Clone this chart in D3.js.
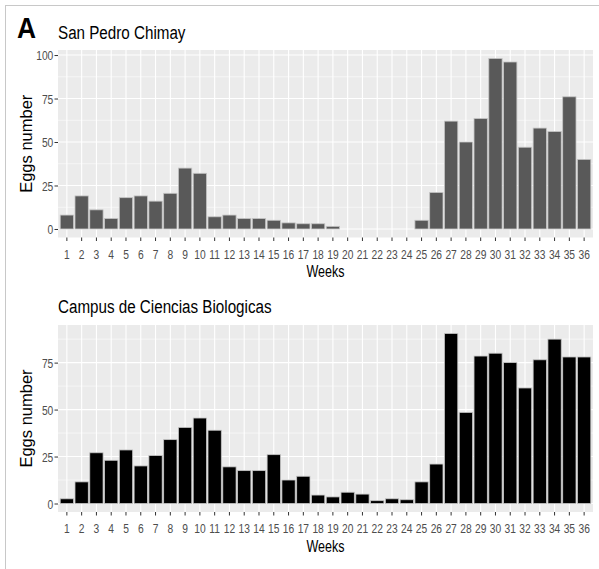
<!DOCTYPE html>
<html>
<head>
<meta charset="utf-8">
<script src="https://cdn.jsdelivr.net/npm/d3@7"></script>
<style>
  body { margin: 0; background: #fff; }
  text { font-family: "Liberation Sans", Arial, sans-serif; }
</style>
</head>
<body>
<script>
// weeks on the x axis
var weeks = ["1","2","3","4","5","6","7","8","9","10","11","12","13","14","15","16","17","18",
  "19","20","21","22","23","24","25","26","27","28","29","30","31","32","33","34","35","36"];

// eggs per week, San Pedro Chimay
var sanPedro = [8, 19, 11, 6, 18, 19, 16, 20.5, 35, 32, 7, 8, 6, 6, 5, 3.5, 3, 3,
  1.5, 0, 0, 0, 0, 0, 5, 21, 62, 50, 63.5, 98, 96, 47, 58, 56, 76, 40];

// eggs per week, Campus de Ciencias Biologicas
var campus = [2.5, 11.5, 27, 23, 28.5, 20, 25.5, 34, 40.5, 45.5, 39, 19.5, 17.5, 17.5, 26, 12.5, 14.5, 4.5,
  3.5, 6, 5, 1.5, 2.5, 2, 11.5, 21, 90.5, 48.5, 78.5, 80, 75, 61.5, 76.5, 87.5, 78, 78];

// y tick labels
var ticksTop = [0, 25, 50, 75, 100];
var ticksBottom = [0, 25, 50, 75];

var w = 599, h = 569;
var squeeze = 0.8;    //horizontal text narrowing, like the original
var tickSqueeze = 0.76;

var svg = d3.select("body")
  .append("svg")
  .attr("width", w)
  .attr("height", h);

svg.append("rect")
  .attr("width", w)
  .attr("height", h)
  .style("fill", "#fff");

//light frame round the figure
svg.append("rect")
  .attr("x", 5.5)
  .attr("y", 5.5)
  .attr("width", w + 10)
  .attr("height", h + 10)
  .style("fill", "none")
  .style("stroke", "#c8c8c8")
  .style("stroke-width", 1);

//panel letter
svg.append("text")
  .attr("transform", "translate(17,38) scale(0.88,1)")
  .style("font-size", "30px")
  .style("font-weight", "bold")
  .text("A");

function drawPanel(opts){
  var left = 58, right = 593;

  var x = d3.scaleBand()
    .domain(weeks)
    .range([left, right])
    .paddingInner(0.1)
    .paddingOuter(0.15);

  var maxVal = d3.max(opts.values);
  var y = d3.scaleLinear()
    .domain([-0.05 * maxVal, 1.05 * maxVal])
    .range([opts.bottom, opts.top]);

  var g = svg.append("g");

  //grey panel
  g.append("rect")
    .attr("x", left)
    .attr("y", opts.top)
    .attr("width", right - left)
    .attr("height", opts.bottom - opts.top)
    .style("fill", "#ebebeb");

  //minor horizontal gridlines (half way between ticks)
  var minor = opts.ticks.slice(0, -1).map(function(d, i){
    return (d + opts.ticks[i + 1]) / 2;
  });
  minor.push(opts.ticks[opts.ticks.length - 1] + 12.5);
  minor = minor.filter(function(d){ return d <= y.domain()[1]; });

  g.selectAll(".minor")
    .data(minor)
    .enter()
    .append("line")
    .attr("x1", left)
    .attr("x2", right)
    .attr("y1", function(d){ return y(d); })
    .attr("y2", function(d){ return y(d); })
    .style("stroke", "#fff")
    .style("stroke-width", 0.55);

  //major gridlines
  g.selectAll(".hmajor")
    .data(opts.ticks)
    .enter()
    .append("line")
    .attr("x1", left)
    .attr("x2", right)
    .attr("y1", function(d){ return y(d); })
    .attr("y2", function(d){ return y(d); })
    .style("stroke", "#fff")
    .style("stroke-width", 1.1);

  g.selectAll(".vmajor")
    .data(weeks)
    .enter()
    .append("line")
    .attr("x1", function(d){ return x(d) + x.bandwidth() / 2; })
    .attr("x2", function(d){ return x(d) + x.bandwidth() / 2; })
    .attr("y1", opts.top)
    .attr("y2", opts.bottom)
    .style("stroke", "#fff")
    .style("stroke-width", 1.1);

  //bars
  g.selectAll(".bar")
    .data(opts.values)
    .enter()
    .append("rect")
    .attr("x", function(d, i){ return x(weeks[i]); })
    .attr("width", x.bandwidth())
    .attr("y", function(d){ return y(d); })
    .attr("height", function(d){ return y(0) - y(d); })
    .style("fill", opts.fill)
    .style("stroke", function(d){ return d > 0 ? "#c4c4c4" : "none"; })
    .style("stroke-width", 0.8);

  //x axis
  var xAxis = g.append("g")
    .attr("transform", "translate(0," + opts.bottom + ")")
    .call(d3.axisBottom(x).tickSize(3.5).tickPadding(0));
  xAxis.select(".domain").remove();
  xAxis.selectAll("line").style("stroke", "#333");
  xAxis.selectAll("text")
    .attr("y", 21.5)
    .attr("dy", 0)
    .attr("transform", "scale(" + tickSqueeze + ",1)")
    .style("font-size", "13.5px")
    .style("font-family", "'Liberation Sans', Arial, sans-serif")
    .style("fill", "#4d4d4d");

  //y axis
  var yAxis = g.append("g")
    .attr("transform", "translate(" + left + ",0)")
    .call(d3.axisLeft(y).tickValues(opts.ticks).tickSize(3.5));
  yAxis.select(".domain").remove();
  yAxis.selectAll("line").style("stroke", "#333");
  yAxis.selectAll("text")
    .attr("x", -4.7 / tickSqueeze)
    .attr("dy", "0.36em")
    .attr("transform", "scale(" + tickSqueeze + ",1)")
    .style("font-size", "13.5px")
    .style("font-family", "'Liberation Sans', Arial, sans-serif")
    .style("fill", "#4d4d4d");

  //titles
  svg.append("text")
    .attr("transform", "translate(" + left + "," + opts.titleY + ") scale(" + squeeze + ",1)")
    .style("font-size", "19px")
    .text(opts.title);

  svg.append("text")
    .attr("text-anchor", "middle")
    .attr("transform", "translate(" + (left + right) / 2 + "," + (opts.bottom + 39.5) + ") scale(0.76,1)")
    .style("font-size", "16.5px")
    .text("Weeks");

  svg.append("text")
    .attr("text-anchor", "middle")
    .attr("transform", "translate(31.5," + (opts.top + opts.bottom) / 2 + ") rotate(-90)")
    .style("font-size", "16.5px")
    .text("Eggs number");
}

drawPanel({
  values: sanPedro,
  ticks: ticksTop,
  top: 50,
  bottom: 237.5,
  fill: "#595959",
  title: "San Pedro Chimay",
  titleY: 39
});

drawPanel({
  values: campus,
  ticks: ticksBottom,
  top: 325,
  bottom: 512,
  fill: "#000000",
  title: "Campus de Ciencias Biologicas",
  titleY: 312.5
});
</script>
</body>
</html>
